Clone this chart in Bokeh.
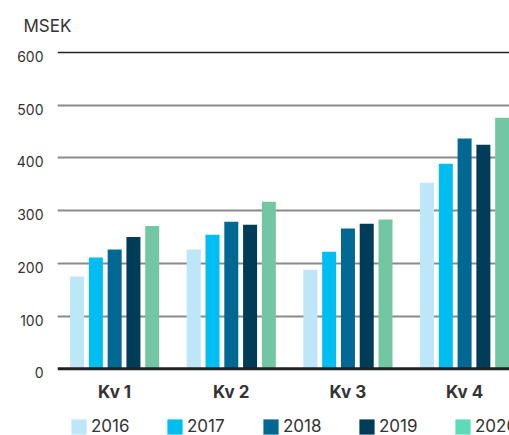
from bokeh.plotting import figure
from bokeh.models import (Range1d, FixedTicker, Span, Legend, LegendItem, ColumnDataSource,
                          LinearAxis)
from bokeh.embed import file_html
from bokeh.resources import INLINE

quarters = ["Kv 1", "Kv 2", "Kv 3", "Kv 4"]
years = ["2016", "2017", "2018", "2019", "2020"]
v2016 = [175, 226, 188, 353]
v2017 = [211, 254, 222, 389]
v2018 = [226, 279, 266, 437]
v2019 = [250, 273, 275, 425]
v2020 = [271, 317, 283, 476]
series = [v2016, v2017, v2018, v2019, v2020]
bar_colors = ["#bde6f9", "#00bdf2", "#006892", "#003c57", "#72c6a4"]
legend_colors = ["#bde6f9", "#00bdf2", "#006892", "#003c57", "#5cdcb6"]
y_ticks = [0, 100, 200, 300, 400, 500, 600]

FONT = "Inter"
Y0, Y1 = -126.7, 609.5
LABEL_SHIFT = 7.6  # move y tick labels ~4px below their gridlines

p = figure(width=509, height=435, output_backend="svg", toolbar_location=None,
           x_range=Range1d(0.01, 3.885), y_range=Range1d(Y0, Y1),
           y_axis_location=None,
           min_border_left=57, min_border_right=0, min_border_top=47, min_border_bottom=0,
           title="MSEK")
p.outline_line_color = None
p.background_fill_color = "white"
p.border_fill_color = "white"

p.title.text_font = FONT
p.title.text_font_size = "17px"
p.title.text_font_style = "normal"
p.title.text_color = "#333333"
p.title.align = "left"
p.title.offset = -34
p.title.standoff = 24

step = 0.161
bw = 0.12
for j, (vals, col) in enumerate(zip(series, bar_colors)):
    xs = [i + 0.5 + (j - 2) * step for i in range(len(quarters))]
    src = ColumnDataSource(dict(x=xs, top=vals))
    p.vbar(x="x", top="top", bottom=0, width=bw, source=src, fill_color=col, line_color=None)

# legend: zero-height bars placed off-screen carry the legend swatch colours
items = []
for y, col in zip(years, legend_colors):
    r = p.vbar(x=[-1.0], top=[0.0], bottom=0, width=bw, fill_color=col, line_color=None)
    items.append(LegendItem(label=y, renderers=[r]))

legend = Legend(items=items, orientation="horizontal", location=(12, -1),
                glyph_width=19, glyph_height=19, label_standoff=3, label_width=74,
                spacing=0, padding=0, margin=0, border_line_color=None,
                background_fill_alpha=0, label_text_font=FONT, label_text_font_size="17px",
                label_text_color="#333333", label_height=20)
p.add_layout(legend, "center")

# x axis drawn at y = 0 inside the frame
p.xaxis.fixed_location = 0
p.xaxis.ticker = FixedTicker(ticks=[i + 0.5 for i in range(len(quarters))])
p.xaxis.major_label_overrides = {i + 0.5: q for i, q in enumerate(quarters)}
p.xaxis.axis_line_color = None
p.xaxis.major_tick_line_color = None
p.xaxis.minor_tick_line_color = None
p.xaxis.major_label_text_font = FONT
p.xaxis.major_label_text_font_size = "17px"
p.xaxis.major_label_text_font_style = "bold"
p.xaxis.major_label_text_color = "#333333"
p.xaxis.major_label_standoff = 7
p.xgrid.grid_line_color = None

# y axis labels on a slightly shifted range
p.extra_y_ranges = {"lbl": Range1d(Y0 + LABEL_SHIFT, Y1 + LABEL_SHIFT)}
yax = LinearAxis(y_range_name="lbl", ticker=FixedTicker(ticks=y_ticks))
yax.axis_line_color = None
yax.major_tick_line_color = None
yax.minor_tick_line_color = None
yax.major_label_text_font = FONT
yax.major_label_text_font_size = "14px"
yax.major_label_text_color = "#333333"
yax.major_label_standoff = 8
p.add_layout(yax, "left")

p.ygrid.ticker = FixedTicker(ticks=[100, 200, 300, 400, 500])
p.ygrid.grid_line_color = "#8a8a8a"
p.ygrid.grid_line_width = 2

p.add_layout(Span(location=600, dimension="width", line_color="#222222", line_width=1.5))
p.add_layout(Span(location=0, dimension="width", line_color="#222222", line_width=3))

open("out.html", "w").write(file_html(p, INLINE))
